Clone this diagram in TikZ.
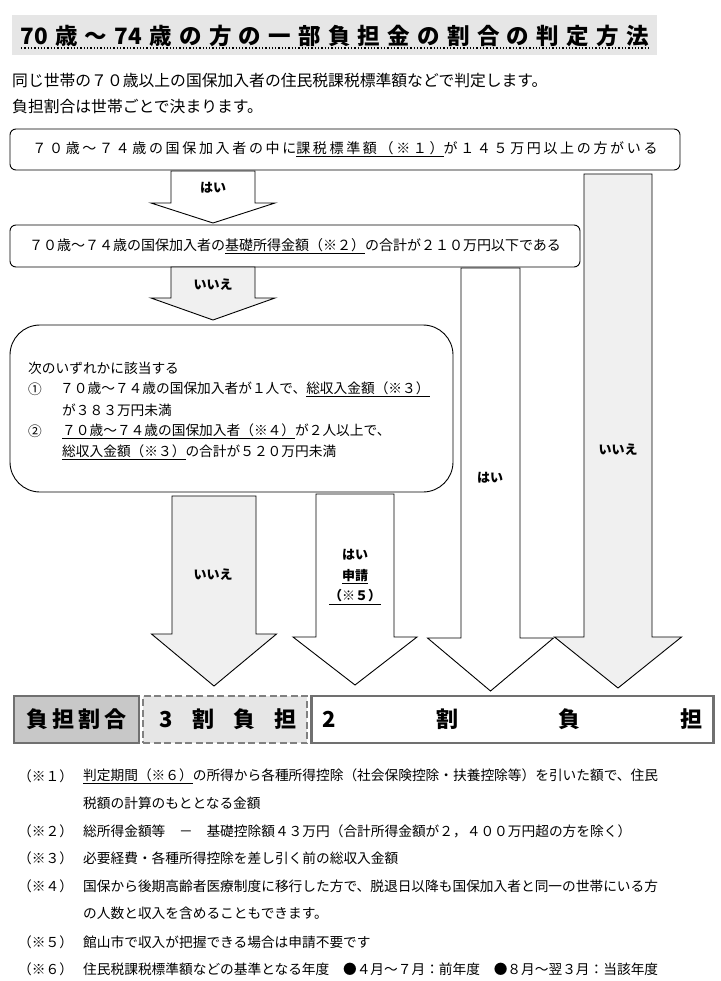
\documentclass[tikz,border=0pt]{standalone}
\usepackage{fontspec}
\setmainfont{Noto Sans CJK JP}
\newfontfamily\widefont[LetterSpace=19]{Noto Sans CJK JP}
\usetikzlibrary{positioning}
\definecolor{lightfill}{HTML}{F0F0F0}
\definecolor{titlefill}{HTML}{E6E6E6}
\definecolor{ratefill}{HTML}{C8C8C8}
\definecolor{rateline}{HTML}{707070}
\tikzset{
  qbox/.style={draw, rounded corners=6pt, line width=0.9pt, inner sep=0pt},
  bigbox/.style={draw, rounded corners=30pt, line width=0.9pt, inner sep=0pt},
  blockarrow/.style={draw, line width=0.9pt, line join=miter},
  arrowlabel/.style={inner sep=0pt, font=\fontsize{13}{20.5}\selectfont\bfseries},
  line/.style={anchor=west, inner sep=0pt, font=\fontsize{13.7}{16}\selectfont},
  ratebox/.style={minimum height=47pt, inner sep=0pt, font=\fontsize{22}{24}\selectfont\bfseries}
}
% block arrow: fill, centre x, top, shoulder, tip, half shaft, half head
\newcommand{\bigarrow}[7]{%
  \draw[blockarrow, fill=#1] (#2-#6,#3) -- (#2-#6,#4) -- (#2-#7,#4) -- (#2,#5)
    -- (#2+#7,#4) -- (#2+#6,#4) -- (#2+#6,#3) -- cycle;}

\begin{document}
\begin{tikzpicture}[x=1pt, y=-1pt]
\useasboundingbox (0,0) rectangle (720,981);

% title
\node[fill=titlefill, minimum width=645pt, minimum height=40pt, inner sep=0pt] (title) at (334.5,35.5)
  {\fontsize{22.5}{24}\selectfont\bfseries\makebox[628pt][s]{70 歳 ～ 74 歳 の 方 の 一 部 負 担 金 の 割 合 の 判 定 方 法}};
\draw[dotted, line width=1.3pt] (21,48) -- (650,48);

\node[anchor=west, inner sep=0pt, font=\fontsize{15.8}{18}\selectfont] (intro1) at (12,80) {同じ世帯の７０歳以上の国保加入者の住民税課税標準額などで判定します。};
\node[anchor=west, inner sep=0pt, font=\fontsize{15.8}{18}\selectfont] (intro2) at (12,107) {負担割合は世帯ごとで決まります。};

% questions
\node[qbox, minimum width=670pt, minimum height=41pt] (q1) at (345,149.5)
  {\widefont\fontsize{14}{16}\selectfont ７０歳～７４歳の国保加入者の中に\underline{課税標準額（※１）}が１４５万円以上の方がいる};
\node[qbox, minimum width=570pt, minimum height=42pt] (q2) at (295,246)
  {\fontsize{14}{16}\selectfont ７０歳～７４歳の国保加入者の\underline{基礎所得金額（※２）}の合計が２１０万円以下である};
\node[bigbox, minimum width=443pt, minimum height=167pt] (q3) at (231.5,408.5) {};
\node[line] (c0) at (28,368) {次のいずれかに該当する};
\node[line] (c1) at (28,389) {①};
\node[line] (c1a) at (60,389) {７０歳～７４歳の国保加入者が１人で、\underline{総収入金額（※３）}};
\node[line] (c1b) at (62,410) {が３８３万円未満};
\node[line] (c2) at (28,431) {②};
\node[line] (c2a) at (62,431) {\underline{７０歳～７４歳の国保加入者（※４）}が２人以上で、};
\node[line] (c2b) at (62,452) {\underline{総収入金額（※３）}の合計が５２０万円未満};

% arrows
\bigarrow{white}{213}{171}{203}{223}{42}{62}
\bigarrow{lightfill}{213}{267}{298}{320}{42}{62}
\bigarrow{lightfill}{214}{496}{634}{686}{42}{62.5}
\bigarrow{white}{355}{494}{637}{685}{39}{62}
\bigarrow{white}{490.5}{268}{638}{691}{29.5}{63}
\bigarrow{lightfill}{618}{174}{637}{688}{34}{63.5}

\node[arrowlabel] (yes1) at (213,188) {はい};
\node[arrowlabel] (no1) at (213,285) {いいえ};
\node[arrowlabel] (no2) at (213,575) {いいえ};
\node[arrowlabel, align=center] (yes2) at (355,577) {はい\\\underline{申請}\\\underline{（※５）}};
\node[arrowlabel] (yes3) at (490,478) {はい};
\node[arrowlabel] (no3) at (618,450) {いいえ};

% result bar
\node[ratebox, fill=ratefill, draw=rateline, line width=2.5pt, minimum width=125pt] (rate) at (76.5,719.5)
  {\makebox[101pt][s]{負 担 割 合}};
\node[ratebox, fill=titlefill, draw=gray, dash pattern=on 7pt off 3.5pt, line width=2pt, minimum width=164pt, right=2pt of rate] (three)
  {\hspace*{6pt}\makebox[137pt][s]{3 割 負 担}};
\node[ratebox, fill=white, draw=rateline, line width=2.5pt, minimum width=402pt, right=2pt of three] (two)
  {\makebox[380pt][s]{2 割 負 担}};

% notes
\node[line] (m1) at (18,776) {（※１）};
\node[line] (t1) at (83,776) {\underline{判定期間（※６）}の所得から各種所得控除（社会保険控除・扶養控除等）を引いた額で、住民};
\node[line] (t1b) at (83,803) {税額の計算のもととなる金額};
\node[line] (m2) at (18,831) {（※２）};
\node[line] (t2) at (83,831) {総所得金額等　－　基礎控除額４３万円（合計所得金額が２，４００万円超の方を除く）};
\node[line] (m3) at (18,858) {（※３）};
\node[line] (t3) at (83,858) {必要経費・各種所得控除を差し引く前の総収入金額};
\node[line] (m4) at (18,886) {（※４）};
\node[line] (t4) at (83,886) {国保から後期高齢者医療制度に移行した方で、脱退日以降も国保加入者と同一の世帯にいる方};
\node[line] (t4b) at (83,913) {の人数と収入を含めることもできます。};
\node[line] (m5) at (18,942) {（※５）};
\node[line] (t5) at (83,942) {館山市で収入が把握できる場合は申請不要です};
\node[line] (m6) at (18,969) {（※６）};
\node[line] (t6) at (83,969) {住民税課税標準額などの基準となる年度　●４月～７月：前年度　●８月～翌３月：当該年度};
\end{tikzpicture}
\end{document}
